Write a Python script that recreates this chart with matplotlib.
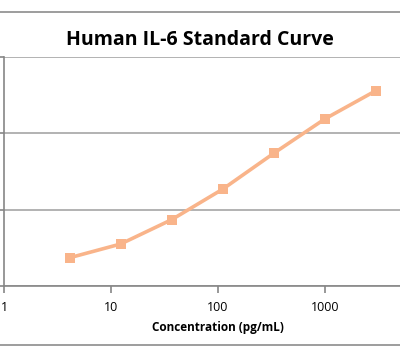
import numpy as np
import matplotlib.pyplot as plt
from matplotlib.lines import Line2D

# standard curve data (3-fold dilutions)
concentracion = [4.1, 12.3, 37, 111, 333, 1000, 3000]
od = [0.37, 0.55, 0.87, 1.27, 1.74, 2.19, 2.56]
ticks_x = [1, 10, 100, 1000]
ticks_y = [0, 1, 2, 3]

W, H = 400, 362
fig = plt.figure(figsize=(W / 100, H / 100), dpi=100)

# plot area: x from 4 px to 432 px (cut off on the right), y from 57 to 286 px
ax = fig.add_axes([4 / W, 1 - 286 / H, 428 / W, (286 - 57) / H])

color = "#F9B48A"
ax.plot(concentracion, od, color=color, linewidth=2.6, marker="s",
        markersize=7.5, markeredgewidth=0, solid_capstyle="round")

ax.set_xscale("log")
ax.set_xlim(1, 10000)
ax.set_ylim(0, 3)
ax.set_xticks(ticks_x)
ax.set_xticklabels([str(t) for t in ticks_x])
ax.minorticks_off()
ax.set_yticks(ticks_y)
ax.set_yticklabels([])
ax.grid(axis="y", color="#A6A6A6", linewidth=1.2)
ax.set_axisbelow(True)

for s in ["top", "right"]:
    ax.spines[s].set_visible(False)
ax.spines["left"].set_color("#868686")
ax.spines["bottom"].set_color("#868686")
ax.spines["left"].set_linewidth(1.2)
ax.spines["bottom"].set_linewidth(1.2)
ax.tick_params(axis="x", direction="out", length=5, width=1.2, color="#868686",
               labelsize=9, pad=6)
ax.tick_params(axis="y", direction="out", length=4, width=1.2, color="#868686")
for lbl in ax.get_xticklabels():
    lbl.set_family("Open Sans")

ax.set_xlabel("Concentration (pg/mL)", fontsize=8.5, fontweight="bold",
              family="Open Sans", labelpad=5)

fig.text(0.5, 1 - 40 / H, "Human IL-6 Standard Curve", ha="center", va="center",
         fontsize=14, fontweight="bold", family="Open Sans")

# chart border lines
fig.add_artist(Line2D([0, 1], [1 - 12 / H, 1 - 12 / H], color="#8C8C8C", linewidth=1.2))
fig.add_artist(Line2D([0, 1], [1 - 345 / H, 1 - 345 / H], color="#8C8C8C", linewidth=1.2))

fig.savefig("out.png", dpi=100)
